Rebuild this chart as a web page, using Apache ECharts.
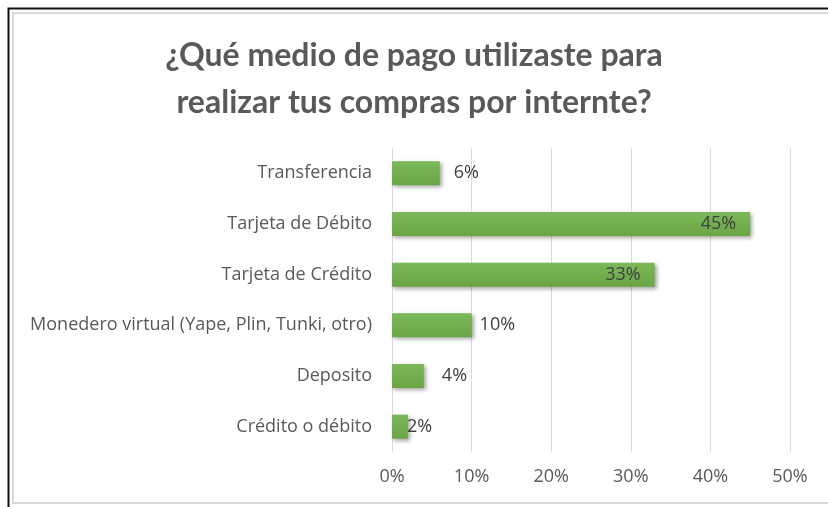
<!DOCTYPE html>
<html>
<head>
<meta charset="utf-8">
<script src="https://cdn.jsdelivr.net/npm/echarts@6/dist/echarts.min.js"></script>
<style>
  html, body { margin: 0; padding: 0; background: #ffffff; }
  #chart { width: 828px; height: 507px; }
</style>
</head>
<body>
<div id="chart"></div>
<script>
// Payment methods used for online purchases (share of respondents, %)
const categories = [
  'Transferencia',
  'Tarjeta de Débito',
  'Tarjeta de Crédito',
  'Monedero virtual (Yape, Plin, Tunki, otro)',
  'Deposito',
  'Crédito o débito'
];
const shares = [6, 45, 33, 10, 4, 2];
const axisTicks = [0, 10, 20, 30, 40, 50];

// Where each value label sits relative to its bar
const labelPlacement = ['right', 'insideRight', 'insideRight', 'right', 'right', 'right'];
const labelGap = [14, 14, 14, 8, 18, -1];

const TITLE_FONT = 'Lato, "Open Sans", sans-serif';
const FONT = '"Open Sans", Lato, sans-serif';

const chart = echarts.init(document.getElementById('chart'), null, { renderer: 'canvas' });

chart.setOption({
  backgroundColor: '#ffffff',
  animation: false,
  title: {
    text: '¿Qué medio de pago utilizaste para\nrealizar tus compras por internte?',
    left: 'center',
    top: 27,
    textStyle: {
      fontFamily: TITLE_FONT,
      fontWeight: 'bold',
      fontSize: 32,
      lineHeight: 47,
      color: '#595959'
    }
  },
  graphic: [
    {
      type: 'rect',
      silent: true,
      shape: { x: 8.5, y: 8.5, width: 840, height: 520 },
      style: { fill: 'none', stroke: '#111111', lineWidth: 2 }
    },
    {
      type: 'rect',
      silent: true,
      shape: { x: 13, y: 13, width: 840, height: 490 },
      style: { fill: 'none', stroke: '#d9d9d9', lineWidth: 2 }
    }
  ],
  grid: {
    left: 392,
    right: 38,
    top: 148,
    bottom: 55,
    containLabel: false
  },
  xAxis: {
    type: 'value',
    min: axisTicks[0],
    max: axisTicks[axisTicks.length - 1],
    interval: axisTicks[1] - axisTicks[0],
    axisLine: { show: false },
    axisTick: { show: false },
    splitLine: { show: true, lineStyle: { color: '#d9d9d9', width: 1 } },
    axisLabel: {
      margin: 16,
      fontFamily: FONT,
      fontSize: 18,
      color: '#595959',
      formatter: '{value}%'
    }
  },
  yAxis: {
    type: 'category',
    data: categories,
    inverse: true,
    axisLine: { show: false },
    axisTick: { show: false },
    splitLine: { show: false },
    axisLabel: {
      margin: 20,
      fontFamily: FONT,
      fontSize: 18,
      color: '#595959'
    }
  },
  series: [
    {
      type: 'bar',
      barWidth: 24,
      data: shares.map((v, i) => ({
        value: v,
        label: {
          position: labelPlacement[i],
          distance: labelGap[i]
        }
      })),
      itemStyle: {
        color: new echarts.graphic.LinearGradient(0, 0, 0, 1, [
          { offset: 0, color: '#7bb857' },
          { offset: 1, color: '#6aa544' }
        ]),
        shadowColor: 'rgba(0, 0, 0, 0.35)',
        shadowBlur: 4,
        shadowOffsetX: 2,
        shadowOffsetY: 2
      },
      label: {
        show: true,
        fontFamily: FONT,
        fontSize: 18,
        color: '#404040',
        formatter: '{c}%'
      }
    }
  ]
});
</script>
</body>
</html>
